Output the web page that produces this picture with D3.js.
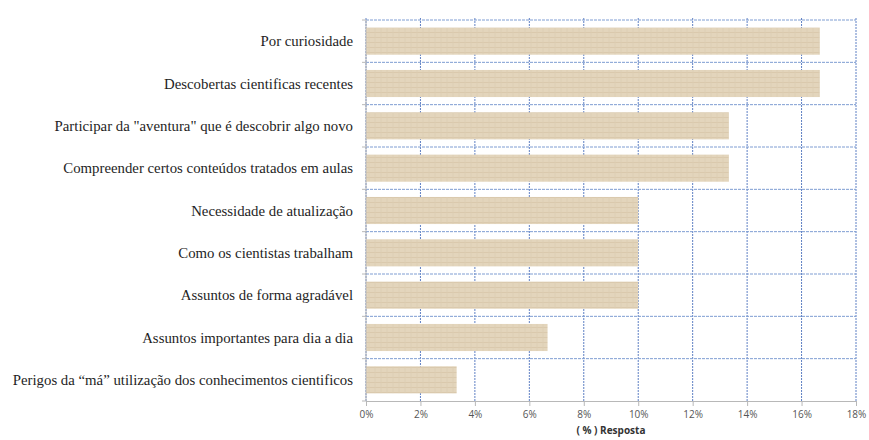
<!DOCTYPE html>
<html>
<head>
<meta charset="utf-8">
<script src="https://cdn.jsdelivr.net/npm/d3@7"></script>
<style>
  body { margin: 0; background: #fff; }
  svg { display: block; }
  .lbl { font-family: 'Liberation Serif', 'DejaVu Serif', serif; }
</style>
</head>
<body>
<div id="chart"></div>
<script>
// respostas (%), de cima para baixo
const categories = [
  'Por curiosidade',
  'Descobertas cientificas recentes',
  'Participar da "aventura" que é descobrir algo novo',
  'Compreender certos conteúdos tratados em aulas',
  'Necessidade de atualização',
  'Como os cientistas trabalham',
  'Assuntos de forma agradável',
  'Assuntos importantes para dia a dia',
  'Perigos da “má” utilização dos conhecimentos cientificos'
];
const values = [16.67, 16.67, 13.33, 13.33, 10, 10, 10, 6.67, 3.33];
const xTicks = [0, 2, 4, 6, 8, 10, 12, 14, 16, 18];

const width = 869, height = 440;
const margin = { top: 20, right: 13, bottom: 39, left: 366 };
const innerW = width - margin.left - margin.right;
const innerH = height - margin.top - margin.bottom;

const svg = d3.select('#chart').append('svg')
  .attr('width', width)
  .attr('height', height);

// textura das barras
const defs = svg.append('defs');
const pat = defs.append('pattern')
  .attr('id', 'tex')
  .attr('patternUnits', 'userSpaceOnUse')
  .attr('width', 6).attr('height', 5);
pat.append('rect').attr('width', 6).attr('height', 5).attr('fill', '#e3d5bc');
pat.append('path').attr('d', 'M0,2.5H6').attr('stroke', '#d8c7aa').attr('stroke-width', 0.8);
pat.append('path').attr('d', 'M3,0V5').attr('stroke', '#dccdb3').attr('stroke-width', 0.8);

const g = svg.append('g').attr('transform', `translate(${margin.left},${margin.top})`);

const x = d3.scaleLinear().domain([0, 18]).range([0, innerW]);
const y = d3.scaleBand().domain(categories).range([0, innerH]).paddingInner(0.36).paddingOuter(0.18);
const step = y.step();

// grade vertical
g.append('g').selectAll('line').data(xTicks).enter().append('line')
  .attr('x1', d => x(d)).attr('x2', d => x(d))
  .attr('y1', -2).attr('y2', innerH)
  .attr('stroke', '#5f80c4')
  .attr('stroke-width', 1)
  .attr('stroke-dasharray', '2,1');

// grade horizontal (limites das categorias)
const bounds = d3.range(categories.length).map(i => i * step);
g.append('g').selectAll('line').data(bounds).enter().append('line')
  .attr('x1', 0).attr('x2', innerW)
  .attr('y1', d => d).attr('y2', d => d)
  .attr('stroke', '#7e9dd2')
  .attr('stroke-width', 1)
  .attr('stroke-dasharray', '3,1');

// barras
g.append('g').selectAll('rect').data(values).enter().append('rect')
  .attr('x', 0)
  .attr('y', (d, i) => y(categories[i]))
  .attr('width', d => x(d))
  .attr('height', y.bandwidth())
  .attr('fill', 'url(#tex)');

// eixo das categorias
const yAxis = g.append('g');
yAxis.append('line')
  .attr('x1', 0).attr('x2', 0).attr('y1', 0).attr('y2', innerH)
  .attr('stroke', '#b8b8b8');
yAxis.selectAll('line.tk').data(bounds.concat([innerH])).enter().append('line')
  .attr('class', 'tk')
  .attr('x1', -4).attr('x2', 0)
  .attr('y1', d => d).attr('y2', d => d)
  .attr('stroke', '#b8b8b8');
yAxis.selectAll('text').data(categories).enter().append('text')
  .attr('class', 'lbl')
  .attr('x', -13)
  .attr('y', d => y(d) + y.bandwidth() / 2)
  .attr('dy', '0.35em')
  .attr('text-anchor', 'end')
  .attr('font-size', 14.8)
  .attr('fill', '#1e1e1e')
  .text(d => d);

// eixo x
const xAxis = g.append('g').attr('transform', `translate(0,${innerH})`)
  .call(d3.axisBottom(x).tickValues(xTicks).tickSize(5).tickPadding(5).tickFormat(d => d + '%'));
xAxis.select('.domain').attr('stroke', '#b8b8b8');
xAxis.selectAll('.tick line').attr('stroke', '#b8b8b8');
xAxis.selectAll('text')
  .attr('font-family', 'Open Sans, DejaVu Sans, sans-serif')
  .attr('font-size', 10)
  .attr('fill', '#555');

g.append('text')
  .attr('x', innerW / 2)
  .attr('y', innerH + 33)
  .attr('text-anchor', 'middle')
  .attr('font-family', 'Open Sans, DejaVu Sans, sans-serif')
  .attr('font-size', 10)
  .attr('font-weight', 'bold')
  .attr('fill', '#333')
  .text('( % ) Resposta');
</script>
</body>
</html>
